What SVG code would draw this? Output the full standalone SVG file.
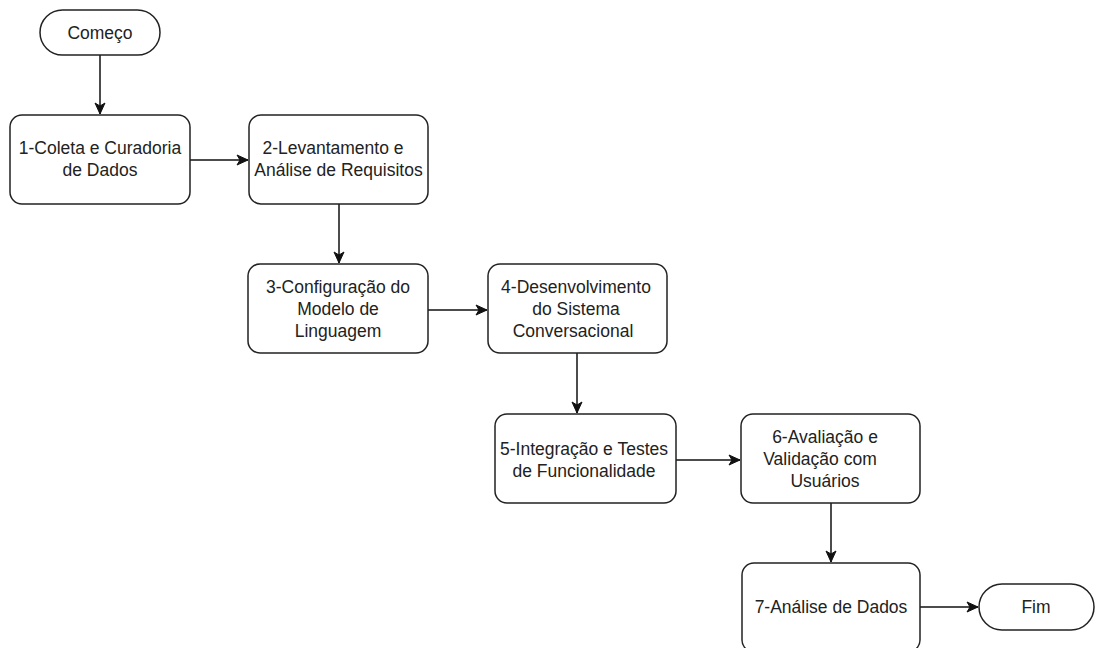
<svg xmlns="http://www.w3.org/2000/svg" width="1095" height="648" viewBox="0 0 1095 648">
<defs>
<marker id="arr" markerWidth="14" markerHeight="12" refX="12" refY="6" orient="auto" markerUnits="userSpaceOnUse">
<path d="M1,1 L12,6 L1,11 L4,6 Z" fill="#111" stroke="#111" stroke-width="1" stroke-linejoin="miter"/>
</marker>
<style>
.box{fill:#fff;stroke:#222;stroke-width:1.5}
.t{font-family:"Liberation Sans",Arial,sans-serif;font-size:17.5px;fill:#222;text-anchor:middle}
.c{fill:none;stroke:#111;stroke-width:1.5}
</style>
</defs>
<rect width="1095" height="648" fill="#fff"/>
<g id="connectors">
<line class="c" x1="100" y1="55" x2="100" y2="114" marker-end="url(#arr)"/>
<line class="c" x1="190" y1="160" x2="248" y2="160" marker-end="url(#arr)"/>
<line class="c" x1="339" y1="204" x2="339" y2="263" marker-end="url(#arr)"/>
<line class="c" x1="428" y1="310" x2="487" y2="310" marker-end="url(#arr)"/>
<line class="c" x1="577" y1="353" x2="577" y2="413" marker-end="url(#arr)"/>
<line class="c" x1="676" y1="460" x2="740" y2="460" marker-end="url(#arr)"/>
<line class="c" x1="831" y1="503" x2="831" y2="562" marker-end="url(#arr)"/>
<line class="c" x1="920" y1="607" x2="978" y2="607" marker-end="url(#arr)"/>
</g>
<g id="start">
<rect class="box" x="40" y="10" width="120" height="45" rx="22.5"/>
<text class="t" x="100" y="39">Começo</text>
</g>
<g id="n1">
<rect class="box" x="10" y="115" width="180" height="89" rx="12"/>
<text class="t" x="100" y="154">1-Coleta e Curadoria</text>
<text class="t" x="100" y="176">de Dados</text>
</g>
<g id="n2">
<rect class="box" x="249" y="115" width="179" height="89" rx="12"/>
<text class="t" x="333" y="154">2-Levantamento e</text>
<text class="t" x="338.5" y="176">Análise de Requisitos</text>
</g>
<g id="n3">
<rect class="box" x="248" y="264" width="180" height="89" rx="12"/>
<text class="t" x="338" y="293">3-Configuração do</text>
<text class="t" x="338" y="315">Modelo de</text>
<text class="t" x="338" y="337">Linguagem</text>
</g>
<g id="n4">
<rect class="box" x="488" y="264" width="179" height="89" rx="12"/>
<text class="t" x="576" y="293">4-Desenvolvimento</text>
<text class="t" x="576" y="315">do Sistema</text>
<text class="t" x="573" y="337">Conversacional</text>
</g>
<g id="n5">
<rect class="box" x="495" y="414" width="181" height="89" rx="12"/>
<text class="t" x="584" y="455">5-Integração e Testes</text>
<text class="t" x="584" y="477">de Funcionalidade</text>
</g>
<g id="n6">
<rect class="box" x="741" y="414" width="179" height="89" rx="12"/>
<text class="t" x="825" y="443">6-Avaliação e</text>
<text class="t" x="820" y="465">Validação com</text>
<text class="t" x="825" y="487">Usuários</text>
</g>
<g id="n7">
<rect class="box" x="742" y="563" width="178" height="89" rx="12"/>
<text class="t" x="831" y="613">7-Análise de Dados</text>
</g>
<g id="end">
<rect class="box" x="979" y="584" width="115" height="46" rx="23"/>
<text class="t" x="1036" y="613">Fim</text>
</g>
</svg>
